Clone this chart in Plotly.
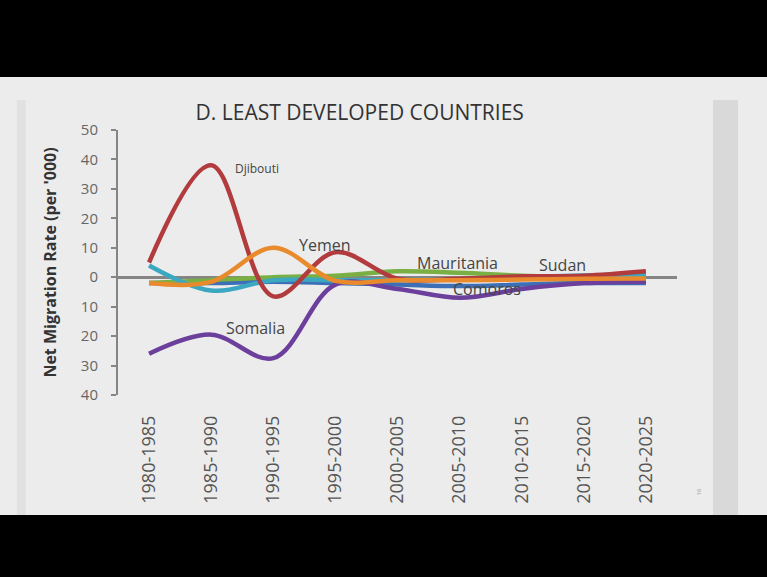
import plotly.graph_objects as go

periods = ["1980-1985", "1985-1990", "1990-1995", "1995-2000", "2000-2005",
           "2005-2010", "2010-2015", "2015-2020", "2020-2025"]

comoros = [-2, -2, -1.5, -2, -2.5, -3, -2.5, -2, -2]
mauritania = [-2, -1, 0, 0.5, 2, 1.5, 0.5, 0, 0]
sudan = [4, -4.5, -1, -1, -1, -0.8, 0, 0.6, 1]
somalia = [-26, -19.5, -27.5, -2.5, -4, -7, -4, -2, -1.5]
djibouti = [5, 38, -6.5, 8.5, -0.5, -0.5, 0.3, 0.5, 2]
yemen = [-2, -1.6, 10, -1.2, -1, -1, -0.8, -0.5, -0.4]

y_ticks = [-40, -30, -20, -10, 0, 10, 20, 30, 40, 50]
y_ticktext = [str(abs(v)) for v in y_ticks]

series = [
    ("Comoros", comoros, "#3c6fb5"),
    ("Mauritania", mauritania, "#7ab043"),
    ("Sudan", sudan, "#3ba7c1"),
    ("Somalia", somalia, "#6b3f9b"),
    ("Djibouti", djibouti, "#b23b3e"),
    ("Yemen", yemen, "#e98a2c"),
]

fig = go.Figure()
for name, vals, col in series:
    fig.add_trace(go.Scatter(
        x=periods, y=vals, name=name, mode="lines",
        line=dict(color=col, width=4.5, shape="spline", smoothing=1.0),
        showlegend=False,
    ))

labels = [
    ("Djibouti", 1.74, 37, 12),
    ("Yemen", 2.83, 10.8, 16),
    ("Mauritania", 4.96, 4.7, 16),
    ("Sudan", 6.65, 4.1, 16),
    ("Comoros", 5.44, -4.1, 16),
    ("Somalia", 1.71, -17.3, 16),
]
for txt, xx, yy, fs in labels:
    fig.add_annotation(x=xx, y=yy, xref="x", yref="y", text=txt, showarrow=False,
                       font=dict(family="Open Sans", size=fs, color="#454545"))

shapes = [
    dict(type="rect", xref="paper", yref="paper", x0=-0.3, x1=1.3, y0=1.2, y1=1.7,
         fillcolor="#000000", line=dict(width=0), layer="below"),
    dict(type="rect", xref="paper", yref="paper", x0=-0.3, x1=1.3, y0=-0.8, y1=-0.4528,
         fillcolor="#000000", line=dict(width=0), layer="below"),
    dict(type="rect", xref="paper", yref="paper", x0=1.0644, x1=1.1091, y0=-0.4528, y1=1.1132,
         fillcolor="#d9d9d9", line=dict(width=0), layer="below"),
    dict(type="rect", xref="paper", yref="paper", x0=-0.181, x1=-0.165, y0=-0.4528, y1=1.1132,
         fillcolor="#e1e1e1", line=dict(width=0), layer="below"),
]

fig.add_annotation(x=1.05, y=-0.385, xref="paper", yref="paper", text="16", showarrow=False,
                   textangle=-90, font=dict(family="Open Sans", size=6, color="#9a9a9a"))

fig.update_layout(
    width=767, height=577, autosize=False,
    margin=dict(l=118, r=90, t=130, b=182),
    paper_bgcolor="#ececec", plot_bgcolor="rgba(0,0,0,0)",
    shapes=shapes,
    title=dict(text="D. LEAST DEVELOPED COUNTRIES", x=0.469, xanchor="center",
               y=1 - 113 / 577, yanchor="middle",
               font=dict(family="Open Sans", size=21, color="#333333")),
    xaxis=dict(type="category", range=[-0.5, 8.5], tickangle=-90, showgrid=False,
               zeroline=False, showline=False, ticks="", ticklabelstandoff=16,
               tickfont=dict(family="Open Sans", size=18, color="#555555")),
    yaxis=dict(range=[-40, 50], tickvals=y_ticks, ticktext=y_ticktext, showgrid=False,
               showline=True, linecolor="#858585", linewidth=2, ticks="outside",
               ticklen=5, tickwidth=2, tickcolor="#858585", ticklabelstandoff=10,
               zeroline=True, zerolinecolor="#858585", zerolinewidth=3,
               tickfont=dict(family="Open Sans", size=15, color="#666666"),
               title=dict(text="<b>Net Migration Rate (per '000)</b>", standoff=20,
                          font=dict(family="Open Sans", size=16, color="#333333"))),
)

fig.write_html("out.html")
